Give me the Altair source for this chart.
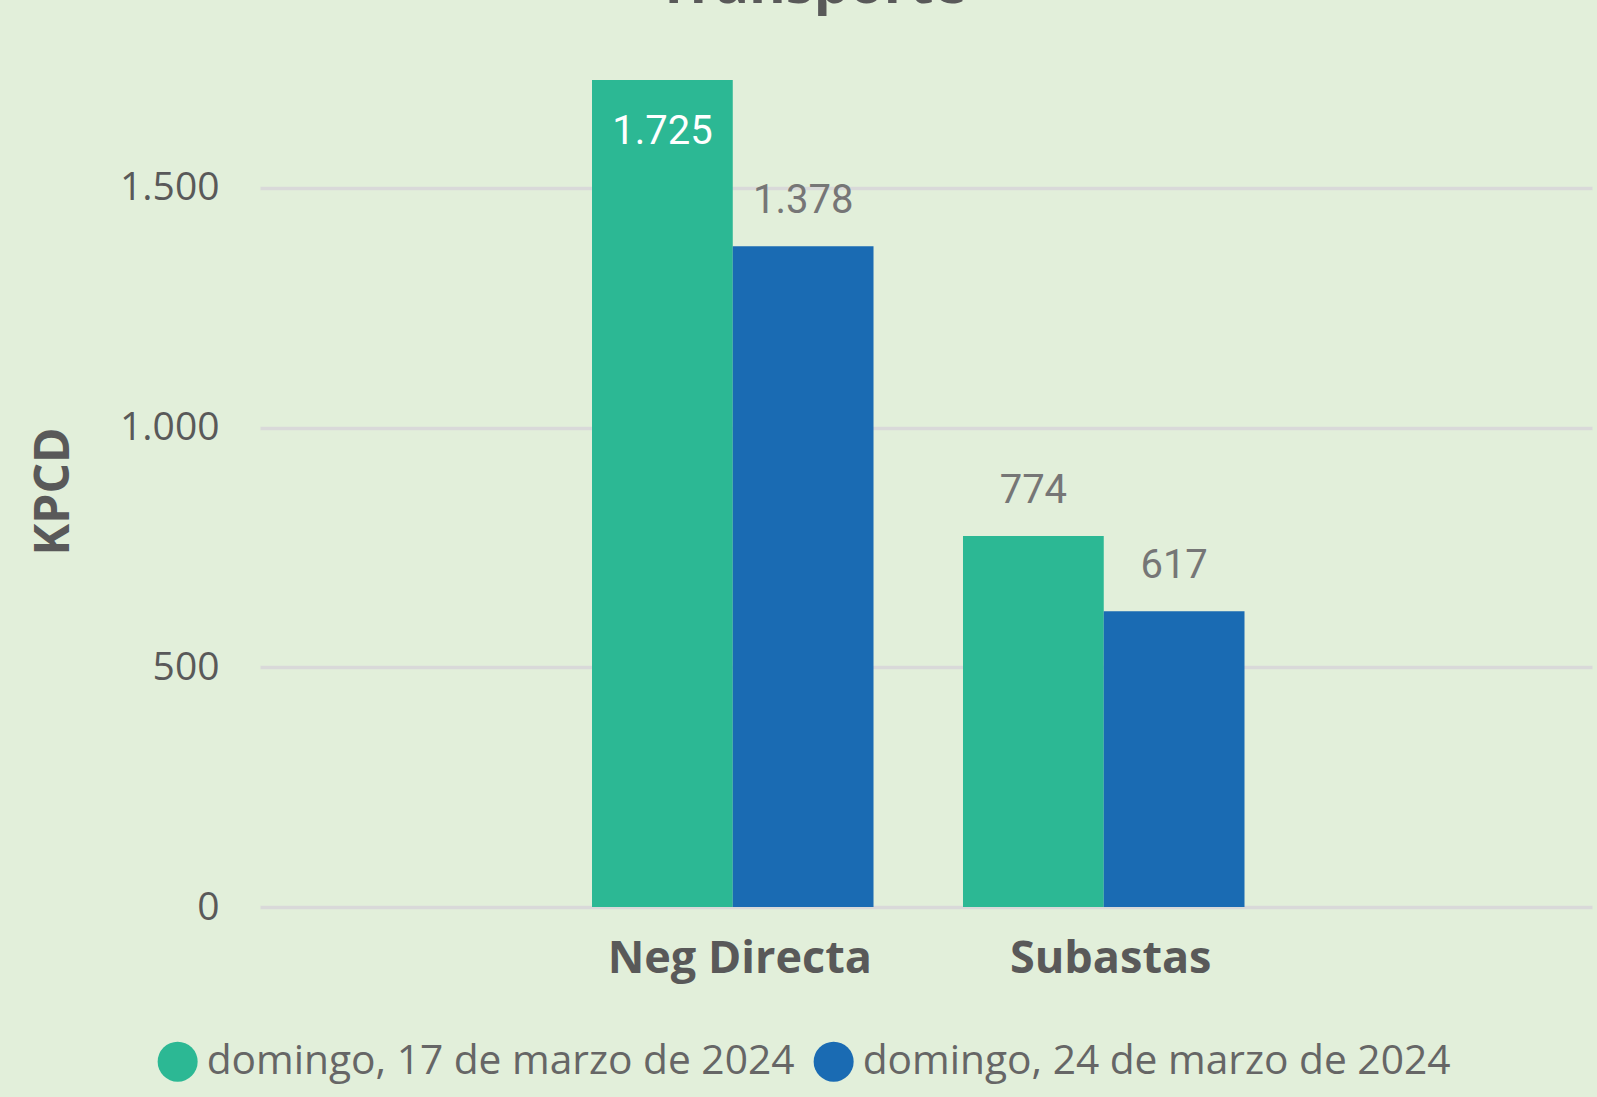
import altair as alt
import pandas as pd

# ---- data ----
title_text = "Transporte"
axis_title = "KPCD"
categories = ["Neg Directa", "Subastas"]
series = ["domingo, 17 de marzo de 2024", "domingo, 24 de marzo de 2024"]
values_s1 = [1725, 774]
values_s2 = [1378, 617]
y_ticks = [0, 500, 1000, 1500]
colors = ["#2CB894", "#1A6BB3"]

rows = []
for i, c in enumerate(categories):
    rows.append({"cat": c, "serie": series[0], "valor": values_s1[i]})
    rows.append({"cat": c, "serie": series[1], "valor": values_s2[i]})
df = pd.DataFrame(rows)

# ---- layout ----
W, H = 1332, 887
YMAX = 1850
PAD = {"left": 260, "right": 5, "top": 20, "bottom": 190}
FONT = "Open Sans"
LABEL_FONT = "Roboto"
TXT = "#595959"

x_enc = alt.X(
    "cat:N", sort=categories,
    scale=alt.Scale(paddingInner=0.2412, paddingOuter=0.9158, align=0.4886),
    axis=alt.Axis(title=None, labelFont=FONT, labelFontSize=45, labelFontWeight="bold",
                  labelColor=TXT, labelAngle=0, labelBaseline="alphabetic", labelPadding=65,
                  labelOffset=7, labelLimit=0, ticks=False, domain=False, grid=False),
)
xoff = alt.XOffset("serie:N", sort=series, scale=alt.Scale(paddingInner=0, paddingOuter=0))
y_enc = alt.Y(
    "valor:Q",
    scale=alt.Scale(domain=[0, YMAX], nice=False, zero=True),
    axis=alt.Axis(title=axis_title, values=y_ticks, format=",d",
                  labelFont=FONT, labelFontSize=39, labelColor=TXT, labelPadding=41,
                  ticks=False, domain=False, grid=True, gridColor="#D9D9D9", gridWidth=3.5,
                  titleFont=FONT, titleFontSize=48, titleFontWeight="bold", titleColor=TXT,
                  titleAngle=270, titleX=-191.5, titleY=471, titleBaseline="alphabetic",
                  titleAlign="center"),
)
color = alt.Color(
    "serie:N",
    scale=alt.Scale(domain=series, range=colors),
    legend=alt.Legend(title=None, orient="none", legendX=-102.7, legendY=1021,
                      direction="horizontal", symbolType="circle", symbolSize=1600,
                      symbolStrokeWidth=0, symbolOpacity=1, labelFont=FONT, labelFontSize=40.7,
                      labelColor="#666666", labelOffset=8.7, columnPadding=18, labelLimit=0,
                      padding=0),
)

base = alt.Chart(df).encode(x=x_enc, xOffset=xoff, y=y_enc)
bars = base.mark_bar().encode(color=color)

inside = f"datum.valor > {0.9 * YMAX}"
labels_out = base.transform_filter(f"!({inside})").mark_text(
    font=LABEL_FONT, fontSize=40, color="#767676", baseline="middle", dy=-45
).encode(text=alt.Text("valor:Q", format=",d"))
labels_in = base.transform_filter(inside).mark_text(
    font=LABEL_FONT, fontSize=40, color="#FFFFFF", baseline="middle", dy=52
).encode(text=alt.Text("valor:Q", format=",d"))

title_layer = alt.Chart(pd.DataFrame({"t": [title_text]})).mark_text(
    font=FONT, fontSize=56, fontWeight="bold", color=TXT, baseline="alphabetic", align="center"
).encode(text="t:N", x=alt.value(552), y=alt.value(-17))

chart = alt.layer(bars, labels_out, labels_in, title_layer).properties(
    width=W, height=H
).configure(
    background="#E2EFDA",
    padding=PAD,
    autosize=alt.AutoSizeParams(type="none"),
    locale={"number": {"decimal": ",", "thousands": ".", "grouping": [3], "currency": ["", " €"]}},
).configure_view(stroke=None)

chart.save("out.html", embed_options={"renderer": "svg", "actions": False})
